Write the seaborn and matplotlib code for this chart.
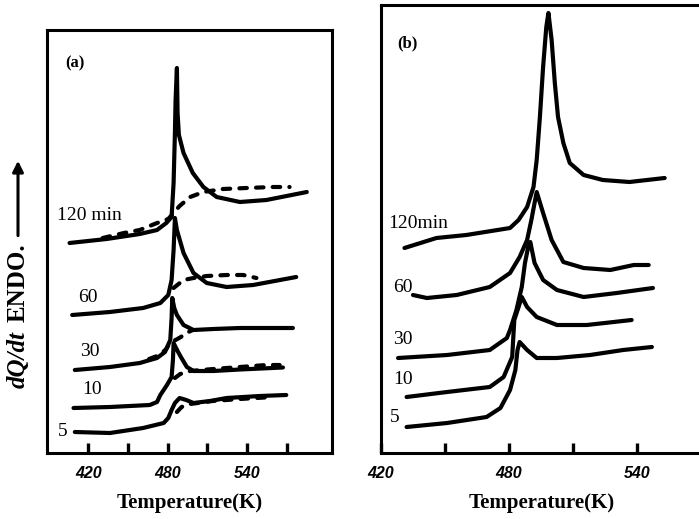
import matplotlib
matplotlib.use("Agg")
import matplotlib.pyplot as plt
import seaborn as sns
import pandas as pd

# ---------------- data (temperature in K, signal in arbitrary units) ----------------
# panel (a)
a120_T = [406, 434, 459, 472, 479, 483, 484.5, 485.5, 486, 487, 487.5, 488.5, 492, 499, 507, 517, 534.5, 554.5, 585]
a120_s = [220, 224, 229, 233, 240, 246, 280, 330, 363, 395, 350, 328, 310, 290, 276, 266, 261, 263, 271]
a120d_T = [431, 447, 459, 472, 480.5, 489, 497, 507, 522, 539.5, 559.5, 572]
a120d_s = [225, 230, 233, 240, 244, 257, 266, 271, 274, 275, 276, 276]

a60_T = [408, 436.5, 461.5, 474.5, 480.5, 483, 484.5, 485.5, 487, 492, 499.5, 509.5, 524.5, 544.5, 577]
a60_s = [148, 151, 155, 160, 168, 183, 213, 245, 233, 210, 190, 180, 176, 178, 186]
a60d_T = [484.5, 492, 499.5, 509.5, 524.5, 537, 547]
a60d_s = [175, 183, 185, 187, 188, 188, 185]

a30_T = [410, 436.5, 459, 472, 478, 482, 483, 483.5, 485, 487, 492, 499.5, 514.5, 534.5, 574.5]
a30_s = [93, 96, 100, 105, 111, 123, 145, 165, 155, 148, 138, 133, 134, 135, 135]
a30d_T = [466, 474, 479, 482, 486, 490, 494, 499]
a30d_s = [104, 108, 114, 121, 123, 126, 130, 133]

a10_T = [409, 436.5, 466.5, 472, 474.5, 479.5, 483, 484, 484.5, 487.5, 490, 494.5, 499.5, 514.5, 534.5, 567]
a10_s = [55, 56, 58, 61, 68, 78, 86, 103, 120, 112, 106, 96, 92, 92, 93.5, 95.5]
a10d_T = [485.5, 489.5, 497, 514.5, 534.5, 554.5, 564.5]
a10d_s = [85, 89, 92, 94, 96, 98, 98]

a5_T = [410, 436.5, 461.5, 477, 480.5, 483, 485.5, 489, 494, 499.5, 512, 524.5, 549.5, 569.5]
a5_s = [31, 30, 35, 40, 45, 53, 60, 65, 63, 60, 62, 65, 67, 68]
a5d_T = [487, 490.5, 497, 514, 534.5, 559.5]
a5d_s = [51, 56, 59, 62, 64, 66]

# panel (b)
b120_T = [431, 446, 460, 480.5, 484.5, 488.5, 491.5, 493, 494.5, 496, 497.5, 498.5, 500, 501.5, 503, 505.5, 508.5, 515, 524, 536.5, 553]
b120_s = [215, 225, 228, 235, 243, 256, 276, 303, 346, 396, 436, 450, 423, 380, 346, 320, 300, 288, 283, 281, 285]

b60_T = [435, 441.5, 455.5, 471, 480.5, 485, 488.5, 490.5, 492, 493, 496, 500, 505.5, 515, 527.5, 538.5, 545.5]
b60_s = [168, 165, 168, 176, 190, 206, 223, 243, 260, 271, 250, 223, 201, 195, 193, 198, 198]

b30_T = [428, 451, 471, 479, 480.5, 483.5, 486, 487.5, 489, 490, 492, 496, 502.5, 515, 530.5, 547.5]
b30_s = [105, 108, 113, 125, 133, 153, 176, 200, 216, 221, 200, 183, 173, 166, 170, 175]

b10_T = [432, 451, 471, 477.5, 481.5, 482.5, 484.5, 486, 488.5, 493, 502.5, 516.5, 537.5]
b10_s = [66, 71, 76, 86, 106, 143, 156, 166, 156, 146, 138, 138, 143]

b5_T = [432, 451, 469.5, 476, 480.5, 483, 484, 485, 488.5, 493, 502.5, 518, 533.5, 547]
b5_s = [36, 40, 46, 55, 73, 93, 113, 121, 113, 105, 105, 108, 113, 116]

labels_a = ["120 min", "60", "30", "10", "5"]
labels_b = ["120min", "60", "30", "10", "5"]
tick_vals_a = [420, 450, 480, 510, 540, 570]
tick_vals_b = [420, 450, 480, 510, 540]
tick_text_a = ["420", "", "480", "", "540", ""]
tick_text_b = ["420", "", "480", "", "540"]


def frame(pairs):
    rows = []
    for name, (T, s) in pairs.items():
        rows.append(pd.DataFrame({"T": T, "s": s, "curve": name}))
    return pd.concat(rows, ignore_index=True)


solid_a = frame({"120": (a120_T, a120_s), "60": (a60_T, a60_s), "30": (a30_T, a30_s),
                 "10": (a10_T, a10_s), "5": (a5_T, a5_s)})
dash_a = frame({"120": (a120d_T, a120d_s), "60": (a60d_T, a60d_s), "30": (a30d_T, a30d_s),
                "10": (a10d_T, a10d_s), "5": (a5d_T, a5d_s)})
solid_b = frame({"120": (b120_T, b120_s), "60": (b60_T, b60_s), "30": (b30_T, b30_s),
                 "10": (b10_T, b10_s), "5": (b5_T, b5_s)})

sns.set_theme(style="white")
plt.rcParams["font.family"] = ["Liberation Serif", "DejaVu Serif"]
plt.rcParams["text.color"] = "black"
plt.rcParams["axes.labelcolor"] = "black"
plt.rcParams["xtick.color"] = "black"

W, H = 699, 519
fig = plt.figure(figsize=(W / 100, H / 100), dpi=100)
fig.patch.set_facecolor("white")

bottom_px = 453
axA = fig.add_axes([47 / W, 1 - bottom_px / H, 285 / W, (bottom_px - 30) / H])
axB = fig.add_axes([381 / W, 1 - bottom_px / H, 321 / W, (bottom_px - 5) / H])

LW = 3.0
for ax, sdf in ((axA, solid_a), (axB, solid_b)):
    for name, g in sdf.groupby("curve", sort=False):
        sns.lineplot(data=g, x="T", y="s", ax=ax, color="black", lw=LW, sort=False,
                     estimator=None, legend=False, solid_capstyle="round", solid_joinstyle="round")

for name, g in dash_a.groupby("curve", sort=False):
    sns.lineplot(data=g, x="T", y="s", ax=axA, color="black", lw=LW, sort=False,
                 estimator=None, legend=False, linestyle=(0, (1.8, 2.2)),
                 dash_capstyle="round")

axA.set_xlim(389, 604)
axA.set_ylim(10, 433)
axB.set_xlim(420, 570.5)
axB.set_ylim(10, 458)

for ax, tv, tt in ((axA, tick_vals_a, tick_text_a), (axB, tick_vals_b, tick_text_b)):
    ax.set_xticks(tv)
    ax.set_xticklabels(tt, fontfamily="Liberation Sans", fontweight="bold",
                       fontstyle="italic", fontsize=11.5, color="black")
    ax.set_yticks([])
    ax.set_xlabel("Temperature(K)", fontsize=15, fontweight="bold", labelpad=9, color="black")
    ax.set_ylabel("")
    ax.tick_params(axis="x", bottom=True, direction="in", length=7, width=2.4, pad=9,
                   colors="black")
    for sp in ax.spines.values():
        sp.set_linewidth(2.2)
        sp.set_color("black")
    ax.set_facecolor("white")

# curve labels
pos_a = [(396.4, 248), (412.2, 166), (413.7, 111), (415.2, 73), (397.1, 31)]
pos_b = [(423.3, 240), (425.6, 176), (425.6, 123), (425.6, 83), (424.2, 45)]
for (x, y), t in zip(pos_a, labels_a):
    axA.text(x, y, t, fontsize=14, ha="left", va="center", color="black")
for (x, y), t in zip(pos_b, labels_b):
    axB.text(x, y, t, fontsize=14, ha="left", va="center", color="black")
axA.text(402.4, 400, "(a)", fontsize=12, fontweight="bold", ha="left", va="center", color="black")
axB.text(427.5, 420, "(b)", fontsize=12, fontweight="bold", ha="left", va="center", color="black")

# y label: dQ/dt ENDO. with arrow
t1 = fig.text(18 / W, 1 - 388 / H, "dQ/dt", rotation=90, fontsize=18, fontweight="bold",
              fontstyle="italic", ha="center", va="bottom", color="black")
fig.canvas.draw()
bb = t1.get_window_extent()
t2 = fig.text(18 / W, (bb.y1 + 9) / H, "ENDO.", rotation=90, fontsize=18, fontweight="bold",
              ha="center", va="bottom", color="black")
fig.canvas.draw()
bb2 = t2.get_window_extent()
fig.add_artist(matplotlib.patches.FancyArrowPatch(
    (18, bb2.y1 + 5), (18, H - 158), transform=None,
    arrowstyle="-|>", mutation_scale=16, lw=2.2, color="black"))

fig.savefig("out.png", dpi=100, facecolor="white")
